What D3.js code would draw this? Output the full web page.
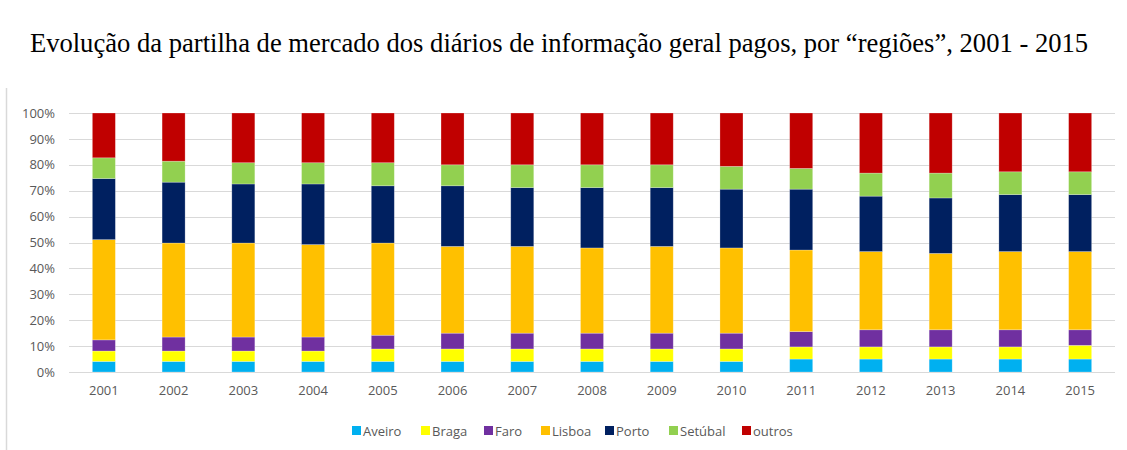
<!DOCTYPE html>
<html>
<head>
<meta charset="utf-8">
<script src="https://cdn.jsdelivr.net/npm/d3@7"></script>
<style>
  body { margin: 0; background: #fff; }
  .canvas { width: 1127px; height: 450px; }
</style>
</head>
<body>
<div class="canvas"></div>
<script>
// data (share in %)
const years = ['2001','2002','2003','2004','2005','2006','2007','2008','2009','2010','2011','2012','2013','2014','2015'];
const regions = ['Aveiro','Braga','Faro','Lisboa','Porto','Setúbal','outros'];
const aveiro  = [4.1,4.1,4.1,4.1,4.1,4.1,4.1,4.1,4.1,4.1,5.0,5.0,5.0,5.0,5.0];
const braga   = [4.0,4.0,4.0,4.0,4.8,4.8,4.8,4.8,4.8,4.8,4.7,4.7,4.7,4.7,5.3];
const faro    = [4.3,5.4,5.4,5.4,5.3,6.1,6.1,6.1,6.1,6.1,5.9,6.6,6.6,6.6,6.0];
const lisboa  = [38.7,36.3,36.3,35.7,35.6,33.5,33.5,32.9,33.5,32.9,31.5,30.2,29.5,30.2,30.2];
const porto   = [23.6,23.5,22.8,23.4,22.1,23.4,22.7,23.3,22.7,22.7,23.5,21.4,21.4,22.0,22.0];
const setubal = [8.0,8.1,8.2,8.2,8.9,8.1,8.8,8.8,8.8,8.8,8.0,8.9,9.6,8.8,8.8];
const outros  = [17.3,18.6,19.2,19.2,19.2,20.0,20.0,20.0,20.0,20.6,21.4,23.2,23.2,22.7,22.7];
const yTicks = [0,0.1,0.2,0.3,0.4,0.5,0.6,0.7,0.8,0.9,1];

const series = [aveiro, braga, faro, lisboa, porto, setubal, outros];
const colours = ['#00b0f0','#ffff00','#7030a0','#ffc000','#002060','#92d050','#c00000'];

const rows = years.map((y,i) => {
  const r = {year: y};
  regions.forEach((k,j) => r[k] = series[j][i]);
  return r;
});

const dims = {width:1127, height:450};
const plot = {left:69, right:1115, top:113, bottom:372};

const svg = d3.select('.canvas')
  .append('svg')
  .attr('width', dims.width)
  .attr('height', dims.height);

// chart frame (only left edge visible in the cropped original)
svg.append('line')
  .attr('x1',6.5).attr('x2',6.5).attr('y1',88).attr('y2',450)
  .attr('stroke','#d9d9d9').attr('stroke-width',1.5);

svg.append('text')
  .attr('x', 559).attr('y', 52)
  .attr('text-anchor','middle')
  .attr('font-family','"Liberation Serif", "Times New Roman", serif')
  .attr('font-size', 26.6)
  .attr('fill','#000')
  .text('Evolução da partilha de mercado dos diários de informação geral pagos, por “regiões”, 2001 - 2015');

const x = d3.scaleBand()
  .domain(years)
  .range([plot.left, plot.right])
  .paddingInner(0.67)
  .paddingOuter(0.335);

const y = d3.scaleLinear()
  .domain([0,1])
  .range([plot.bottom, plot.top]);

const colour = d3.scaleOrdinal().domain(regions).range(colours);

// gridlines
svg.append('g')
  .selectAll('line')
  .data(yTicks)
  .join('line')
    .attr('x1', plot.left).attr('x2', plot.right)
    .attr('y1', d => Math.round(y(d)) + 0.5)
    .attr('y2', d => Math.round(y(d)) + 0.5)
    .attr('stroke','#d9d9d9')
    .attr('stroke-width',1.2);

// y axis labels
const yAxis = svg.append('g')
  .attr('transform', `translate(${plot.left},0)`)
  .call(d3.axisLeft(y).tickValues(yTicks).tickFormat(d3.format('.0%')).tickSize(0).tickPadding(14));
yAxis.select('.domain').remove();
yAxis.selectAll('text')
  .attr('fill','#595959')
  .attr('font-size',13)
  .attr('font-family','"Open Sans", "Liberation Sans", sans-serif');

// x axis labels
const xAxis = svg.append('g')
  .attr('transform', `translate(0,${plot.bottom})`)
  .call(d3.axisBottom(x).tickSize(0).tickPadding(14));
xAxis.select('.domain').remove();
xAxis.selectAll('text')
  .attr('fill','#595959')
  .attr('font-size',13)
  .attr('font-family','"Open Sans", "Liberation Sans", sans-serif');

// stacked bars, normalised to 100%
const stack = d3.stack()
  .keys(regions)
  .offset(d3.stackOffsetExpand);

const layers = svg.append('g')
  .selectAll('g')
  .data(stack(rows))
  .join('g')
    .attr('fill', d => colour(d.key));

layers.selectAll('rect')
  .data(d => d)
  .join('rect')
    .attr('x', d => x(d.data.year))
    .attr('width', x.bandwidth())
    .attr('y', d => y(d[1]))
    .attr('height', d => y(d[0]) - y(d[1]))
    .attr('stroke','#fff')
    .attr('stroke-opacity',0.35)
    .attr('stroke-width',0.7);

// legend
const legendX = [352, 421, 484, 541, 605, 669, 742];
const legend = svg.append('g')
  .selectAll('g')
  .data(regions)
  .join('g')
    .attr('transform', (d,i) => `translate(${legendX[i]}, 431)`);

legend.append('rect')
  .attr('x',0).attr('y',-5).attr('width',9).attr('height',9)
  .attr('fill', d => colour(d));

legend.append('text')
  .attr('x',11).attr('y',0)
  .attr('dy','0.35em')
  .attr('fill','#595959')
  .attr('font-size',13)
  .attr('font-family','"Open Sans", "Liberation Sans", sans-serif')
  .text(d => d);
</script>
</body>
</html>
